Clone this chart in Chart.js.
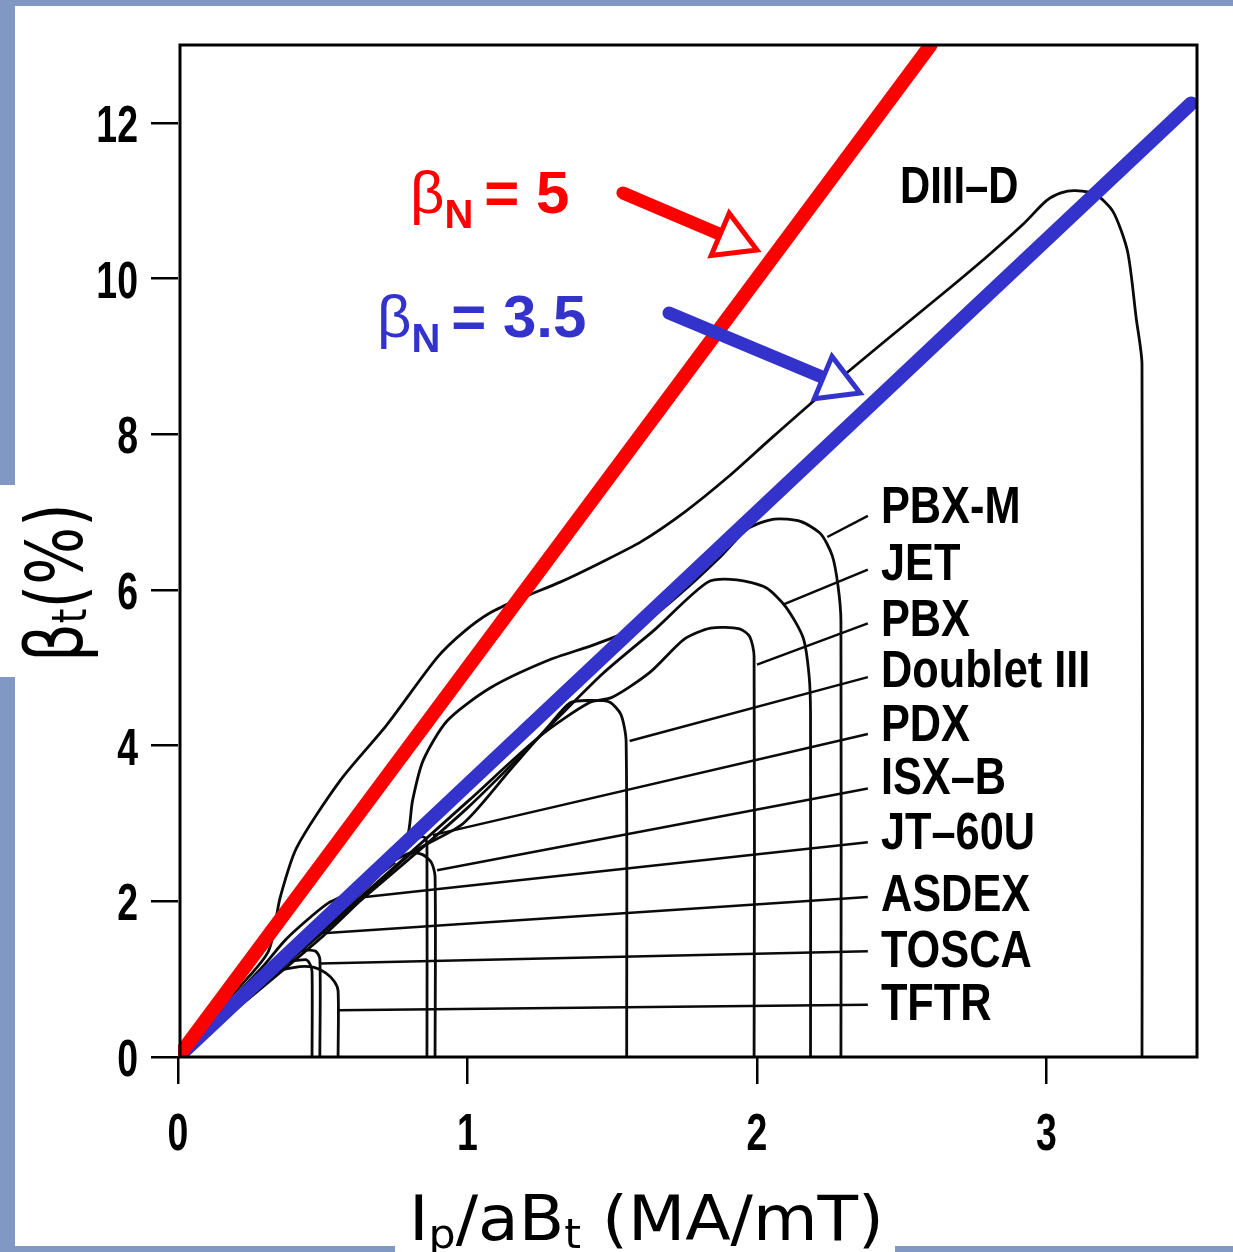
<!DOCTYPE html>
<html>
<head>
<meta charset="utf-8">
<script src="https://cdn.jsdelivr.net/npm/chart.js@4.4.0/dist/chart.umd.min.js"></script>
<style>
html, body { margin: 0; padding: 0; background: #8298c4; }
canvas { display: block; }
</style>
</head>
<body>
<canvas id="beta_chart" width="1233" height="1252"></canvas>
<script>
// beta_t (%) against Ip/aBt (MA/mT), operating regions of several tokamaks
var xTicks = [0, 1, 2, 3];
var yTicks = [0, 2, 4, 6, 8, 10, 12];

// beta_N limit lines
var redLineX = [0, 2.6];
var redLineY = [0, 13];
var blueLineX = [0, 3.5];
var blueLineY = [0, 12.25];

// outlines
var diiidX = [0, 0.15, 0.31, 0.353, 0.41, 0.56, 0.72, 0.895, 0.99, 1.08, 1.19, 1.32, 1.46, 1.6, 1.75, 1.9, 2.05, 2.25, 2.45, 2.65, 2.8, 2.92, 3.0, 3.05, 3.1, 3.17, 3.23, 3.28, 3.31, 3.33, 3.33];
var diiidY = [0, 0.65, 1.34, 2.05, 2.69, 3.55, 4.26, 5.13, 5.47, 5.71, 5.9, 6.1, 6.35, 6.62, 7.0, 7.45, 7.95, 8.6, 9.22, 9.83, 10.3, 10.7, 11.0, 11.1, 11.13, 11.08, 10.86, 10.35, 9.49, 8.9, 0];

var pbxmX = [0, 0.4, 0.7, 0.79, 0.81, 0.847, 0.93, 1.078, 1.275, 1.448, 1.6, 1.75, 1.88, 1.97, 2.06, 2.15, 2.22, 2.26, 2.28, 2.29, 2.29];
var pbxmY = [0, 1.32, 2.35, 2.8, 3.29, 3.81, 4.32, 4.74, 5.09, 5.31, 5.55, 6.0, 6.45, 6.79, 6.91, 6.88, 6.72, 6.44, 6.05, 5.6, 0];

var jetX = [0, 0.5, 1.0, 1.46, 1.65, 1.83, 1.93, 2.03, 2.10, 2.16, 2.18, 2.185, 2.185];
var jetY = [0, 1.6, 3.2, 4.9, 5.5, 6.1, 6.13, 6.03, 5.78, 5.38, 4.9, 4.4, 0];

var pbxX = [0, 0.5, 1.0, 1.25, 1.42, 1.50, 1.63, 1.75, 1.84, 1.94, 1.975, 1.99, 1.99];
var pbxY = [0, 1.62, 3.28, 4.12, 4.55, 4.62, 4.94, 5.37, 5.51, 5.5, 5.4, 5.15, 0];

var d3X = [0, 0.5, 0.8, 0.985, 1.15, 1.28, 1.355, 1.42, 1.49, 1.53, 1.548, 1.55];
var d3Y = [0, 1.55, 2.6, 3.0, 3.7, 4.25, 4.55, 4.58, 4.56, 4.4, 4.05, 0];

var pdxX = [0, 0.4, 0.7, 0.80, 0.84, 0.855, 0.86, 0.86];
var pdxY = [0, 1.35, 2.38, 2.72, 2.83, 2.81, 2.7, 0];

var isxbX = [0, 0.4, 0.698, 0.8, 0.845, 0.875, 0.888, 0.888];
var isxbY = [0, 1.32, 2.4, 2.62, 2.6, 2.5, 2.32, 0];

var jt60X = [0, 0.15, 0.29, 0.37, 0.446, 0.52, 0.6, 0.68, 0.75];
var jt60Y = [0, 0.6, 1.15, 1.5, 1.76, 1.98, 2.12, 2.3, 2.5];

var asdexX = [0, 0.2, 0.35, 0.44, 0.455, 0.463, 0.463];
var asdexY = [0, 0.68, 1.18, 1.25, 1.2, 1.1, 0];

var toscaX = [0, 0.2, 0.38, 0.43, 0.475, 0.49, 0.49];
var toscaY = [0, 0.69, 1.3, 1.37, 1.36, 1.26, 0];

var tftrX = [0, 0.2, 0.33, 0.42, 0.47, 0.51, 0.54, 0.553, 0.553];
var tftrY = [0, 0.67, 1.08, 1.16, 1.15, 1.08, 0.97, 0.85, 0];

// labels on the right and the lines leading to each outline
var names = ['PBX-M', 'JET', 'PBX', 'Doublet III', 'PDX', 'ISX\u2013B', 'JT\u201360U', 'ASDEX', 'TOSCA', 'TFTR'];
var nameX = 2.428;
var nameY = [6.86, 6.127, 5.41, 4.755, 4.06, 3.38, 2.67, 1.88, 1.156, 0.475];
var leaderFromX = 2.383;
var leaderFromY = [6.95, 6.26, 5.57, 4.88, 4.15, 3.45, 2.76, 2.055, 1.36, 0.67];
var leaderToX = [2.243, 2.09, 2.0, 1.56, 0.88, 0.895, 0.63, 0.50, 0.49, 0.553];
var leaderToY = [6.68, 5.81, 5.04, 4.06, 2.85, 2.4, 2.05, 1.59, 1.2, 0.6];

var diiidName = 'DIII\u2013D';
var diiidNameAt = [2.494, 10.97];

// beta_N captions and arrows
var redText = '= 5';
var blueText = '= 3.5';
var redTextAt = [0.801, 10.84];
var blueTextAt = [0.687, 9.25];
var redArrowFrom = [1.537, 11.10];
var redArrowTo = [2.0, 10.366];
var blueArrowFrom = [1.696, 9.557];
var blueArrowTo = [2.356, 8.529];

var RED = '#ff0000';
var BLUE = '#3333cc';
var INK = '#0a0a0a';

function pts(xs, ys) {
    return xs.map(function (x, i) { return { x: x, y: ys[i] }; });
}

function outline(xs, ys) {
    return {
        data: pts(xs, ys), showLine: true, borderColor: INK, borderWidth: 2.8,
        pointRadius: 0, tension: 0.25, fill: false, order: 1
    };
}

var datasets = [
    { data: pts(redLineX, redLineY), showLine: true, borderColor: RED, borderWidth: 14, borderCapStyle: 'round', pointRadius: 0, order: 0 },
    { data: pts(blueLineX, blueLineY), showLine: true, borderColor: BLUE, borderWidth: 14, borderCapStyle: 'round', pointRadius: 0, order: 0 },
    outline(diiidX, diiidY),
    outline(pbxmX, pbxmY),
    outline(jetX, jetY),
    outline(pbxX, pbxY),
    outline(d3X, d3Y),
    outline(pdxX, pdxY),
    outline(isxbX, isxbY),
    outline(jt60X, jt60Y),
    outline(asdexX, asdexY),
    outline(toscaX, toscaY),
    outline(tftrX, tftrY)
];

for (let i = 0; i < names.length; i++) {
    datasets.push({
        data: [{ x: leaderFromX, y: leaderFromY[i] }, { x: leaderToX[i], y: leaderToY[i] }],
        showLine: true, borderColor: INK, borderWidth: 2.5, pointRadius: 0, order: 2
    });
}

// narrow bold text, like the condensed face of the scan
function narrowText(ctx, str, x, y, size, sx, align) {
    ctx.save();
    ctx.font = 'bold ' + size + 'px "Liberation Sans", Arial, sans-serif';
    var w = ctx.measureText(str).width * sx;
    var x0 = align === 'right' ? x - w : align === 'center' ? x - w / 2 : x;
    ctx.translate(x0, y);
    ctx.scale(sx, 1);
    ctx.textAlign = 'left';
    ctx.textBaseline = 'alphabetic';
    ctx.fillText(str, 0, 0);
    ctx.restore();
}

// runs of text with subscripts, drawn in the current transform
function runs(ctx, parts) {
    var x = 0;
    parts.forEach(function (p) {
        if (p.gap) { x += p.gap; return; }
        ctx.font = p.font;
        ctx.fillText(p.t, x, p.dy || 0);
        x += ctx.measureText(p.t).width;
    });
}

function arrow(ctx, x1, y1, x2, y2, color) {
    var dx = x2 - x1, dy = y2 - y1, len = Math.hypot(dx, dy);
    var ux = dx / len, uy = dy / len;
    var headLen = 40, half = 23;
    var bx = x2 - ux * headLen, by = y2 - uy * headLen;
    ctx.save();
    ctx.strokeStyle = color;
    ctx.lineWidth = 13;
    ctx.lineCap = 'round';
    ctx.beginPath();
    ctx.moveTo(x1, y1);
    ctx.lineTo(bx, by);
    ctx.stroke();
    ctx.beginPath();
    ctx.moveTo(x2, y2);
    ctx.lineTo(bx - uy * half, by + ux * half);
    ctx.lineTo(bx + uy * half, by - ux * half);
    ctx.closePath();
    ctx.fillStyle = '#ffffff';
    ctx.fill();
    ctx.lineWidth = 5;
    ctx.lineJoin = 'miter';
    ctx.stroke();
    ctx.restore();
}

var pagePlugin = {
    id: 'page',
    beforeDraw: function (chart) {
        var ctx = chart.ctx, W = chart.width, H = chart.height;
        ctx.save();
        ctx.fillStyle = '#8298c4';
        ctx.fillRect(0, 0, W, H);
        ctx.fillStyle = '#ffffff';
        ctx.fillRect(15, 6, W - 15, 1240);
        ctx.fillRect(0, 485, 15, 192);
        ctx.fillRect(395, 1240, 500, 12);
        ctx.restore();
    },
    afterDraw: function (chart) {
        var ctx = chart.ctx, a = chart.chartArea;
        var xs = chart.scales.x, ys = chart.scales.y;
        function px(v) { return xs.getPixelForValue(v); }
        function py(v) { return ys.getPixelForValue(v); }

        ctx.save();
        ctx.strokeStyle = '#000';
        ctx.lineWidth = 3;
        ctx.strokeRect(a.left + 2, a.top, a.right - a.left - 2, a.bottom - a.top);

        ctx.fillStyle = '#000';
        yTicks.forEach(function (v) { narrowText(ctx, String(v), 138, py(v) + 19, 52, 0.72, 'right'); });
        xTicks.forEach(function (v) { narrowText(ctx, String(v), px(v), 1150, 52, 0.72, 'center'); });

        names.forEach(function (n, i) { narrowText(ctx, n, px(nameX), py(nameY[i]), 51, 0.85, 'left'); });
        narrowText(ctx, diiidName, px(diiidNameAt[0]), py(diiidNameAt[1]), 51, 0.82, 'left');

        // axis titles
        ctx.textAlign = 'left';
        ctx.textBaseline = 'alphabetic';
        ctx.save();
        ctx.translate(409, 1240);
        ctx.scale(1.07, 1);
        runs(ctx, [
            { t: 'I', font: '62px "DejaVu Sans"' },
            { t: 'p', font: '40px "DejaVu Sans"', dy: 8 },
            { t: '/aB', font: '62px "DejaVu Sans"' },
            { t: 't', font: '40px "DejaVu Sans"', dy: 8 },
            { t: ' (MA/mT)', font: '62px "DejaVu Sans"' }
        ]);
        ctx.restore();

        ctx.save();
        ctx.translate(82, 662);
        ctx.rotate(-Math.PI / 2);
        ctx.scale(0.78, 1);
        runs(ctx, [
            { t: '\u03b2', font: '78px "DejaVu Sans"' },
            { t: 't', font: '48px "DejaVu Sans"', dy: 4 },
            { t: '(%)', font: '78px "DejaVu Sans"' }
        ]);
        ctx.restore();

        // beta_N captions
        [[redTextAt, redText, RED], [blueTextAt, blueText, BLUE]].forEach(function (c) {
            ctx.save();
            ctx.fillStyle = c[2];
            ctx.translate(px(c[0][0]), py(c[0][1]));
            runs(ctx, [
                { t: '\u03b2', font: '60px "Liberation Sans"' },
                { t: 'N', font: 'bold 40px "Liberation Sans"', dy: 15 },
                { gap: 11 },
                { t: c[1], font: 'bold 60px "Liberation Sans"' }
            ]);
            ctx.restore();
        });

        arrow(ctx, px(redArrowFrom[0]), py(redArrowFrom[1]), px(redArrowTo[0]), py(redArrowTo[1]), RED);
        arrow(ctx, px(blueArrowFrom[0]), py(blueArrowFrom[1]), px(blueArrowTo[0]), py(blueArrowTo[1]), BLUE);
        ctx.restore();
    }
};

let betaChart = new Chart(document.getElementById('beta_chart'), {
    type: 'scatter',
    data: { datasets: datasets },
    options: {
        responsive: false,
        animation: false,
        events: [],
        layout: { padding: { left: 0, top: 45, right: 36, bottom: 0 } },
        plugins: { legend: { display: false }, tooltip: { enabled: false } },
        scales: {
            x: {
                type: 'linear', min: 0, max: 3.52,
                afterBuildTicks: function (s) { s.ticks = xTicks.map(function (v) { return { value: v }; }); },
                afterFit: function (s) { s.height = 195; },
                ticks: { display: false },
                border: { display: false },
                grid: { drawOnChartArea: false, drawTicks: true, tickLength: 27, color: '#000', lineWidth: 2.5 }
            },
            y: {
                type: 'linear', min: 0, max: 13,
                afterBuildTicks: function (s) { s.ticks = yTicks.map(function (v) { return { value: v }; }); },
                afterFit: function (s) { s.width = 178; },
                ticks: { display: false },
                border: { display: false },
                grid: { drawOnChartArea: false, drawTicks: true, tickLength: 27, color: '#000', lineWidth: 2.5 }
            }
        }
    },
    plugins: [pagePlugin]
});
</script>
</body>
</html>
